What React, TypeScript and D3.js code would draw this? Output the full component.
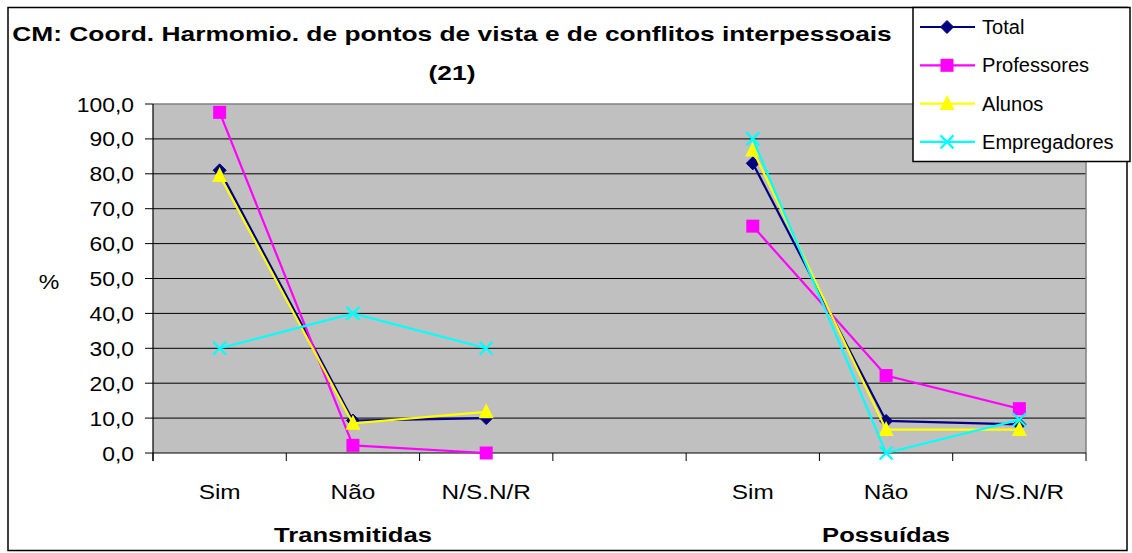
import React from "react";
import * as d3 from "d3";

const title1 = "CM: Coord. Harmomio. de pontos de vista e de conflitos interpessoais";
const title2 = "(21)";
const groupLabels = ["Transmitidas", "Possuídas"];
const answerLabels = ["Sim", "Não", "N/S.N/R", "", "Sim", "Não", "N/S.N/R"];
const slotKeys = ["t-sim", "t-nao", "t-ns", "gap", "p-sim", "p-nao", "p-ns"];
const groupCenterSlots = ["t-nao", "p-nao"];
const yTicks = [0, 10, 20, 30, 40, 50, 60, 70, 80, 90, 100];

const total = [81.0, 9.3, 10.0, null, 83.0, 9.2, 8.2];
const professores = [97.6, 2.2, 0.0, null, 65.0, 22.2, 12.7];
const alunos = [79.5, 8.5, 11.8, null, 86.8, 6.7, 6.7];
const empregadores = [30.0, 40.0, 30.0, null, 90.0, 0.0, 9.5];

const seriesNames = ["Total", "Professores", "Alunos", "Empregadores"];
const seriesData = [total, professores, alunos, empregadores];
const seriesColors = ["#000080", "#FF00FF", "#FFFF00", "#00FFFF"];
const seriesMarkers = ["diamond", "square", "triangle", "x"];

const W = 1132;
const H = 553;
const plot = { left: 153, right: 1086, top: 104, bottom: 453 };
const FONT = "'Liberation Sans', Arial, sans-serif";

function Marker({ type, x, y, color }: { type: string; x: number; y: number; color: string }) {
  if (type === "diamond") {
    const s = 6.5;
    return <path d={`M${x},${y - s}L${x + s},${y}L${x},${y + s}L${x - s},${y}Z`} fill={color} stroke={color} strokeWidth={1} />;
  }
  if (type === "square") {
    const s = 6.5;
    return <rect x={x - s} y={y - s} width={2 * s} height={2 * s} fill={color} />;
  }
  if (type === "triangle") {
    const s = 7.5;
    return <path d={`M${x},${y - s - 1}L${x + s},${y + s - 1}L${x - s},${y + s - 1}Z`} fill={color} />;
  }
  const s = 6.5;
  return (
    <path d={`M${x - s},${y - s}L${x + s},${y + s}M${x + s},${y - s}L${x - s},${y + s}`} stroke={color} strokeWidth={2.2} fill="none" />
  );
}

function SText({ x, y, sx, size, bold, anchor, children }: any) {
  return (
    <text
      transform={`translate(${x},${y}) scale(${sx},1)`}
      fontFamily={FONT}
      fontSize={size}
      fontWeight={bold ? "bold" : "normal"}
      textAnchor={anchor || "middle"}
      fill="#000"
    >
      {children}
    </text>
  );
}

export default function App() {
  const x = d3.scaleBand<string>().domain(slotKeys).range([plot.left, plot.right]).paddingInner(0).paddingOuter(0);
  const y = d3.scaleLinear().domain([0, 100]).range([plot.bottom, plot.top]);
  const cx = (i: number) => (x(slotKeys[i]) as number) + x.bandwidth() / 2;

  const line = d3
    .line<number | null>()
    .defined((d) => d !== null)
    .x((_, i) => cx(i))
    .y((d) => y(d as number));

  const boundaries = slotKeys.map((k) => x(k) as number).concat([plot.right]);

  return (
    <svg width={W} height={H} style={{ position: "absolute", left: 0, top: 0, background: "#fff" }}>
      <rect x={0} y={0} width={W} height={H} fill="#fff" />
      {/* chart border */}
      <rect x={8} y={7.5} width={1119} height={543} fill="none" stroke="#000" strokeWidth={1.5} />

      {/* plot area */}
      <rect x={plot.left} y={plot.top} width={plot.right - plot.left} height={plot.bottom - plot.top} fill="#C0C0C0" />
      {yTicks
        .filter((t) => t > 0 && t < 100)
        .map((t) => (
          <line key={t} x1={plot.left} x2={plot.right} y1={y(t)} y2={y(t)} stroke="#000" strokeWidth={1} />
        ))}
      <line x1={plot.left} x2={plot.right} y1={plot.top} y2={plot.top} stroke="#808080" strokeWidth={1.5} />
      <line x1={plot.right} x2={plot.right} y1={plot.top} y2={plot.bottom} stroke="#808080" strokeWidth={1.5} />

      {/* axes */}
      <line x1={plot.left} x2={plot.left} y1={plot.top} y2={plot.bottom + 8} stroke="#000" strokeWidth={1.2} />
      <line x1={plot.left} x2={plot.right} y1={plot.bottom} y2={plot.bottom} stroke="#000" strokeWidth={1.2} />
      {yTicks.map((t) => (
        <g key={t}>
          <line x1={plot.left - 8} x2={plot.left} y1={y(t)} y2={y(t)} stroke="#000" strokeWidth={1} />
          <SText x={134} y={y(t) + 7.5} sx={1.09} size={21} anchor="end">
            {d3.format(".1f")(t).replace(".", ",")}
          </SText>
        </g>
      ))}
      {boundaries.map((b, i) => (
        <line key={i} x1={b} x2={b} y1={plot.bottom} y2={plot.bottom + 8} stroke="#000" strokeWidth={1} />
      ))}
      {answerLabels.map((l, i) =>
        l ? (
          <SText key={i} x={cx(i)} y={499} sx={1.16} size={21}>
            {l}
          </SText>
        ) : null
      )}
      {groupLabels.map((g, i) => (
        <SText key={g} x={(x(groupCenterSlots[i]) as number) + x.bandwidth() / 2} y={542} sx={1.22} size={21} bold>
          {g}
        </SText>
      ))}
      <SText x={49} y={289} sx={1.1} size={21}>
        %
      </SText>

      {/* series */}
      {seriesData.map((d, si) => (
        <g key={seriesNames[si]}>
          <path d={line(d) || ""} fill="none" stroke={seriesColors[si]} strokeWidth={2.2} />
          {d.map((v, i) =>
            v === null ? null : <Marker key={i} type={seriesMarkers[si]} x={cx(i)} y={y(v)} color={seriesColors[si]} />
          )}
        </g>
      ))}

      {/* title */}
      <SText x={452} y={41} sx={1.255} size={21} bold>
        {title1}
      </SText>
      <SText x={452} y={80} sx={1.255} size={21} bold>
        {title2}
      </SText>

      {/* legend */}
      <rect x={913} y={7.5} width={217} height={154} fill="#fff" stroke="#000" strokeWidth={1.5} />
      {seriesNames.map((n, i) => {
        const ly = 27 + i * 38.3;
        return (
          <g key={n}>
            <line x1={920} x2={975} y1={ly} y2={ly} stroke={seriesColors[i]} strokeWidth={2.2} />
            <Marker type={seriesMarkers[i]} x={947} y={ly} color={seriesColors[i]} />
            <SText x={982} y={ly + 7} sx={1.03} size={19.5} anchor="start">
              {n}
            </SText>
          </g>
        );
      })}
    </svg>
  );
}
